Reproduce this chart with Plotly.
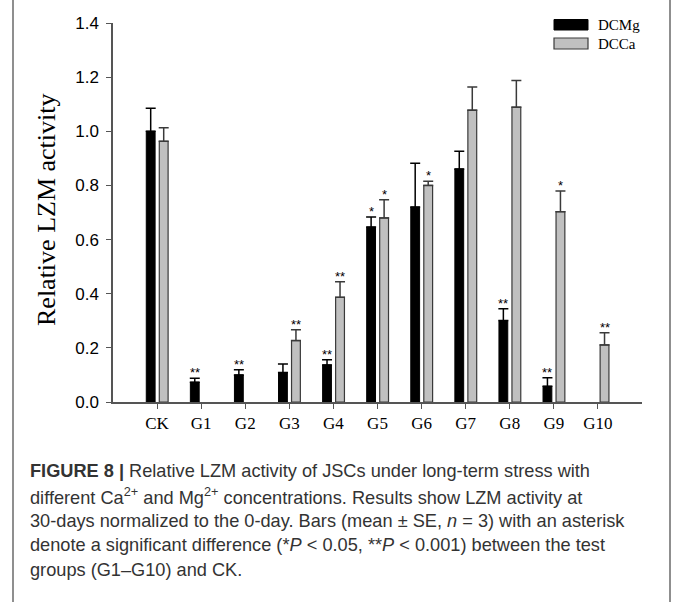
import plotly.graph_objects as go

# ---------------- data ----------------
categories = ["CK", "G1", "G2", "G3", "G4", "G5", "G6", "G7", "G8", "G9", "G10"]
dcmg_mean = [1.000, 0.073, 0.100, 0.109, 0.137, 0.646, 0.720, 0.861, 0.301, 0.058, None]
dcmg_se   = [0.085, 0.015, 0.019, 0.031, 0.019, 0.037, 0.162, 0.065, 0.043, 0.032, None]
dcca_mean = [0.963, None, None, 0.227, 0.387, 0.680, 0.800, 1.078, 1.089, 0.703, 0.211]
dcca_se   = [0.050, None, None, 0.040, 0.057, 0.067, 0.015, 0.086, 0.099, 0.076, 0.045]
dcmg_sig  = ["", "**", "**", "", "**", "*", "", "", "**", "**", ""]
dcca_sig  = ["", "", "", "**", "**", "*", "*", "", "", "*", "**"]
series_names = ["DCMg", "DCCa"]
y_ticks = [0.0, 0.2, 0.4, 0.6, 0.8, 1.0, 1.2, 1.4]
y_title = "Relative LZM activity"
caption_lines = [
    "<b>FIGURE 8 |</b> Relative LZM activity of JSCs under long-term stress with",
    "different Ca<sup>2+</sup> and Mg<sup>2+</sup> concentrations. Results show LZM activity at",
    "30-days normalized to the 0-day. Bars (mean \u00b1 SE, <i>n</i> = 3) with an asterisk",
    "denote a significant difference (*<i>P</i> &lt; 0.05, **<i>P</i> &lt; 0.001) between the test",
    "groups (G1\u2013G10) and CK.",
]

# ---------------- geometry ----------------
W, H = 675, 602
L, R, T, B = 113, 642, 23, 402
def px_x(x):
    return (x - L) / (R - L)
def px_y(y):
    return (B - y) / (B - T)

bar_w = 0.2
off_mg = -0.245
off_ca = 0.05
unit_px = (R - L) / 12.0

fig = go.Figure()
fig.add_trace(go.Bar(
    x=categories, y=dcmg_mean, name=series_names[0],
    width=bar_w, offset=off_mg,
    marker=dict(color="#000000", line=dict(color="#000000", width=1)),
    error_y=dict(type="data", array=dcmg_se, arrayminus=[0] * len(categories),
                 symmetric=False, color="#000000", thickness=1.5, width=5),
    showlegend=False,
))
fig.add_trace(go.Bar(
    x=categories, y=dcca_mean, name=series_names[1],
    width=bar_w, offset=off_ca,
    marker=dict(color="#c0c0c0", line=dict(color="#3a3a3a", width=1.2)),
    error_y=dict(type="data", array=dcca_se, arrayminus=[0] * len(categories),
                 symmetric=False, color="#3a3a3a", thickness=1.5, width=5),
    showlegend=False,
))

annotations = []
# significance stars
for means, ses, sigs, off in [(dcmg_mean, dcmg_se, dcmg_sig, off_mg),
                              (dcca_mean, dcca_se, dcca_sig, off_ca)]:
    for c, m, s, g in zip(categories, means, ses, sigs):
        if g and m is not None:
            annotations.append(dict(
                x=c, y=m + s, xref="x", yref="y", text=g, showarrow=False,
                xanchor="center", yanchor="bottom",
                xshift=(off + bar_w / 2) * unit_px, yshift=-4,
                font=dict(family="Liberation Sans, Arial", size=13, color="#000000"),
            ))

# y-axis title
annotations.append(dict(
    x=px_x(46), y=px_y(210), xref="paper", yref="paper", text=y_title,
    showarrow=False, textangle=-90, xanchor="center", yanchor="middle",
    font=dict(family="Liberation Serif, Times New Roman", size=26, color="#000000"),
))

# legend text
for name, yc in zip(series_names, [25, 43.5]):
    annotations.append(dict(
        x=px_x(596), y=px_y(yc), xref="paper", yref="paper", text=name,
        showarrow=False, xanchor="left", yanchor="middle",
        font=dict(family="Liberation Serif, Times New Roman", size=15, color="#000000"),
    ))

# caption
for i, line in enumerate(caption_lines):
    annotations.append(dict(
        x=px_x(28), y=px_y(471 + i * 24.75), xref="paper", yref="paper", text=line,
        showarrow=False, xanchor="left", yanchor="middle", align="left",
        font=dict(family="Liberation Sans, Arial", size=18.2, color="#333333"),
    ))

shapes = [
    # legend swatches
    dict(type="rect", xref="paper", yref="paper",
         x0=px_x(554), x1=px_x(588), y0=px_y(30), y1=px_y(19.5),
         fillcolor="#000000", line=dict(color="#000000", width=1)),
    dict(type="rect", xref="paper", yref="paper",
         x0=px_x(554), x1=px_x(588), y0=px_y(49), y1=px_y(38),
         fillcolor="#c0c0c0", line=dict(color="#3a3a3a", width=1.2)),
    # outer frame lines
    dict(type="line", xref="paper", yref="paper",
         x0=px_x(13), x1=px_x(13), y0=px_y(0), y1=px_y(602),
         line=dict(color="#6a6a6a", width=1.5)),
    dict(type="line", xref="paper", yref="paper",
         x0=px_x(670), x1=px_x(670), y0=px_y(0), y1=px_y(602),
         line=dict(color="#6a6a6a", width=1.5)),
]

fig.update_layout(
    width=W, height=H,
    margin=dict(l=L, r=W - R, t=T, b=H - B, pad=0),
    paper_bgcolor="white", plot_bgcolor="white",
    annotations=annotations, shapes=shapes,
    showlegend=False,
    xaxis=dict(
        type="category", categoryorder="array", categoryarray=categories,
        range=[-1, 11], showline=True, linecolor="#555555", linewidth=1.5,
        ticks="outside", ticklen=5, tickwidth=1.2, tickcolor="#555555",
        showgrid=False, zeroline=False,
        tickfont=dict(family="Liberation Serif, Times New Roman", size=17, color="#000000"),
    ),
    yaxis=dict(
        range=[0, 1.4], tickvals=y_ticks, tickformat=".1f",
        showline=True, linecolor="#555555", linewidth=1.5,
        ticks="outside", ticklen=5, tickwidth=1.2, tickcolor="#555555",
        showgrid=False, zeroline=False, ticklabelstandoff=4,
        tickfont=dict(family="Liberation Sans, Arial", size=17, color="#000000"),
    ),
)

fig.write_html("out.html",
               config={"displayModeBar": False},
               post_script="document.body.style.margin='0';document.body.style.overflow='hidden';")
